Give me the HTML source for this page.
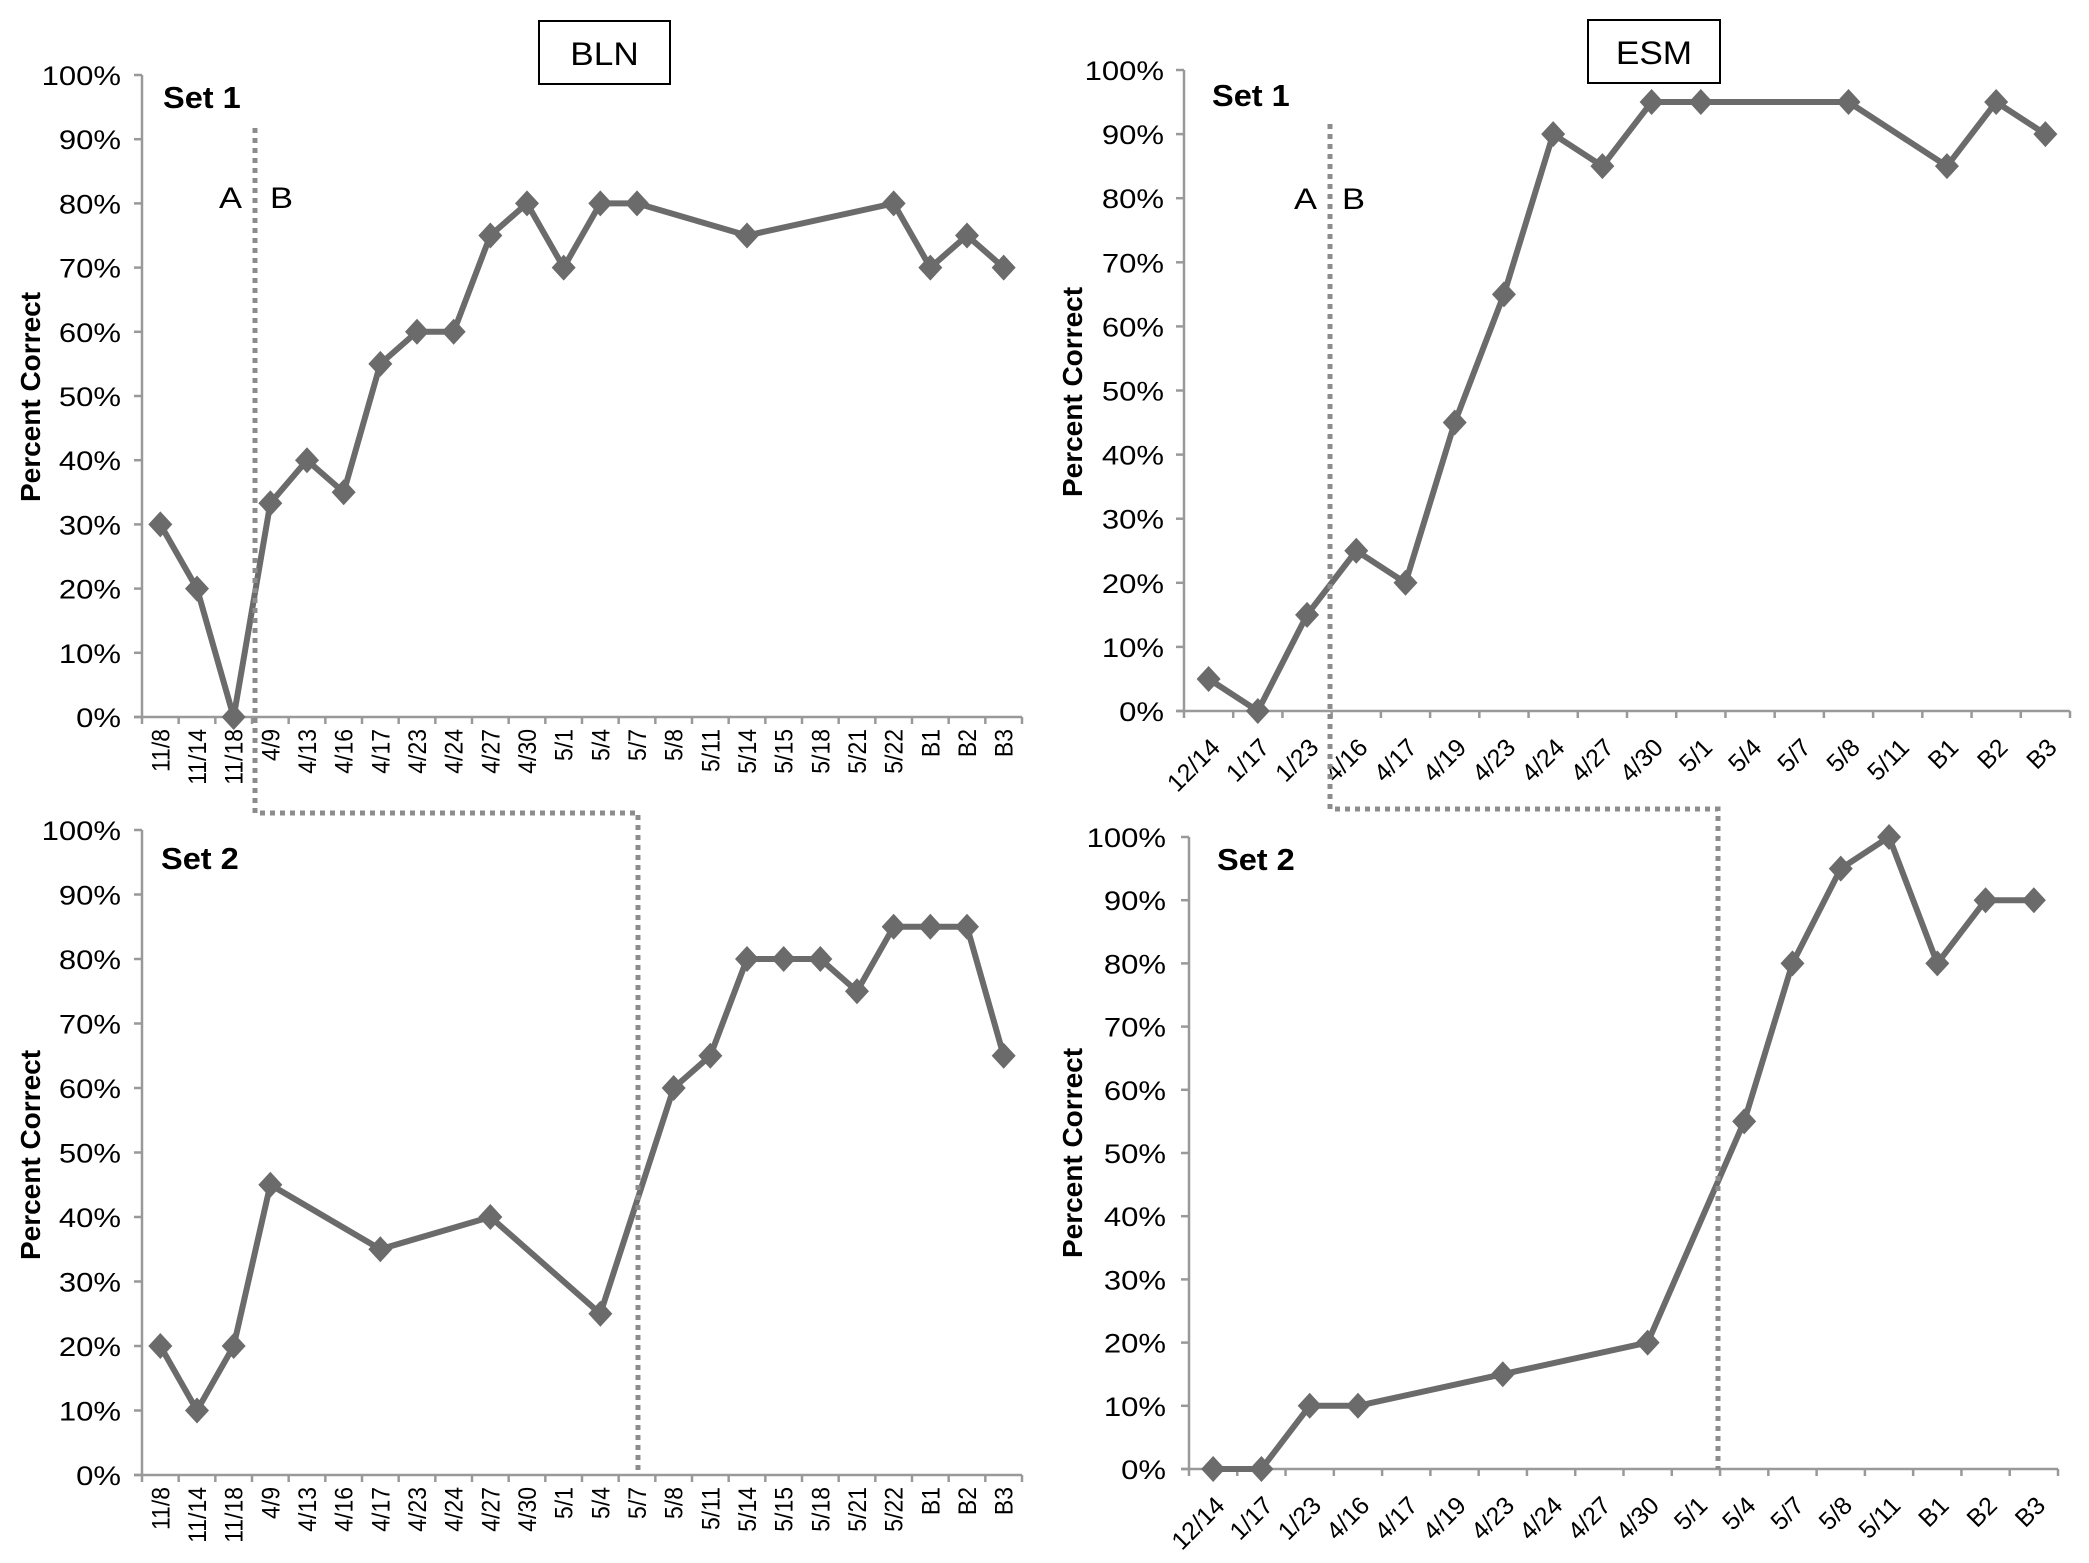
<!DOCTYPE html>
<html><head><meta charset="utf-8"><style>
html,body{margin:0;padding:0;background:#fff;}
svg{display:block;}
text{font-family:"Liberation Sans",Arial,sans-serif;fill:#000;}
</style></head><body>
<svg id="s" width="2089" height="1563" viewBox="0 0 2089 1563" xmlns="http://www.w3.org/2000/svg"></svg>
<script>
var S=document.getElementById('s');var h='';
function chart(c){
  var n=c.cats.length, w=(c.x1-c.x0)/n, ph=(c.y0-c.y100);
  h+='<line x1="'+c.x0+'" y1="'+c.y100+'" x2="'+c.x0+'" y2="'+c.y0+'" stroke="#999" stroke-width="2.5"/>';
  h+='<line x1="'+(c.x0-8)+'" y1="'+c.y0+'" x2="'+c.x1+'" y2="'+c.y0+'" stroke="#999" stroke-width="2.5"/>';
  for(var i=0;i<=10;i++){var y=c.y0-ph*i/10;
    h+='<line x1="'+(c.x0-8)+'" y1="'+y+'" x2="'+c.x0+'" y2="'+y+'" stroke="#999" stroke-width="2.5"/>';
    h+='<text transform="translate('+c.lx+','+(y+10)+') scale(1.15,1)" font-size="27" text-anchor="end">'+(i*10)+'%</text>';}
  for(var i=0;i<=n;i++){var x=c.x0+i*w;
    h+='<line x1="'+x+'" y1="'+c.y0+'" x2="'+x+'" y2="'+(c.y0+7)+'" stroke="#999" stroke-width="2.5"/>';}
  for(var i=0;i<n;i++){var cx=c.x0+(i+.5)*w;
    if(c.rot==90) h+='<text transform="translate('+(cx+9)+','+(c.y0+12)+') rotate(-90) scale(1,1.1)" font-size="23" text-anchor="end">'+c.cats[i]+'</text>';
    else h+='<text transform="translate('+(cx+13)+','+(c.y0+38)+') rotate(-45)" font-size="25" text-anchor="end">'+c.cats[i]+'</text>';}
  var pts=[];
  for(var i=0;i<n;i++){if(c.d[i]!=null)pts.push([c.x0+(i+.5)*w,c.y0-ph*c.d[i]/100]);}
  h+='<polyline fill="none" stroke="#6b6b6b" stroke-width="6" stroke-linejoin="round" points="'+pts.map(function(p){return p.join(',')}).join(' ')+'"/>';
  pts.forEach(function(p){h+='<polygon fill="#6b6b6b" points="'+p[0]+','+(p[1]-13)+' '+(p[0]+12)+','+p[1]+' '+p[0]+','+(p[1]+13)+' '+(p[0]-12)+','+p[1]+'"/>';});
  h+='<text transform="translate('+(c.tx+10)+','+c.ty+') rotate(-90)" font-size="28" font-weight="bold" text-anchor="middle">Percent Correct</text>';
  h+='<text transform="translate('+c.sx+','+c.sy+') scale(1.05,1)" font-size="31" font-weight="bold">'+c.set+'</text>';
}
var L1=['11/8','11/14','11/18','4/9','4/13','4/16','4/17','4/23','4/24','4/27','4/30','5/1','5/4','5/7','5/8','5/11','5/14','5/15','5/18','5/21','5/22','B1','B2','B3'];
var R1=['12/14','1/17','1/23','4/16','4/17','4/19','4/23','4/24','4/27','4/30','5/1','5/4','5/7','5/8','5/11','B1','B2','B3'];
var N=null;
chart({cats:L1,x0:142,x1:1022,y100:75,y0:717,lx:121,rot:90,tx:30,ty:397,sx:163,sy:108,set:'Set 1',
 d:[30,20,0,33.3,40,35,55,60,60,75,80,70,80,80,N,N,75,N,N,N,80,70,75,70]});
chart({cats:L1,x0:142,x1:1022,y100:830,y0:1475,lx:121,rot:90,tx:30,ty:1155,sx:161,sy:869,set:'Set 2',
 d:[20,10,20,45,N,N,35,N,N,40,N,N,25,N,60,65,80,80,80,75,85,85,85,65]});
chart({cats:R1,x0:1184,x1:2070,y100:70,y0:711,lx:1164,rot:45,tx:1072,ty:392,sx:1212,sy:106,set:'Set 1',
 d:[5,0,15,25,20,45,65,90,85,95,95,N,N,95,N,85,95,90]});
chart({cats:R1,x0:1189,x1:2058,y100:837,y0:1469,lx:1166,rot:45,tx:1072,ty:1153,sx:1217,sy:870,set:'Set 2',
 d:[0,0,10,10,N,N,15,N,N,20,N,55,80,95,100,80,90,90]});
var ds='fill="none" stroke="#8c8c8c" stroke-width="5" stroke-dasharray="5 5"';
h+='<polyline '+ds+' points="255,128 255,813 638,813 638,1475"/>';
h+='<polyline '+ds+' points="1330,124 1330,809 1718,809 1718,1469"/>';
h+='<text transform="translate(219,208) scale(1.15,1)" font-size="30">A</text><text transform="translate(270,208) scale(1.15,1)" font-size="30">B</text>';
h+='<text transform="translate(1294,209) scale(1.15,1)" font-size="30">A</text><text transform="translate(1342,209) scale(1.15,1)" font-size="30">B</text>';
h+='<rect x="539" y="21" width="131" height="63" fill="#fff" stroke="#000" stroke-width="2"/><text transform="translate(604.5,65) scale(1.1,1)" font-size="32" text-anchor="middle">BLN</text>';
h+='<rect x="1588" y="20" width="132" height="63" fill="#fff" stroke="#000" stroke-width="2"/><text transform="translate(1654,64) scale(1.1,1)" font-size="32" text-anchor="middle">ESM</text>';
S.innerHTML=h;
</script>
</body></html>
